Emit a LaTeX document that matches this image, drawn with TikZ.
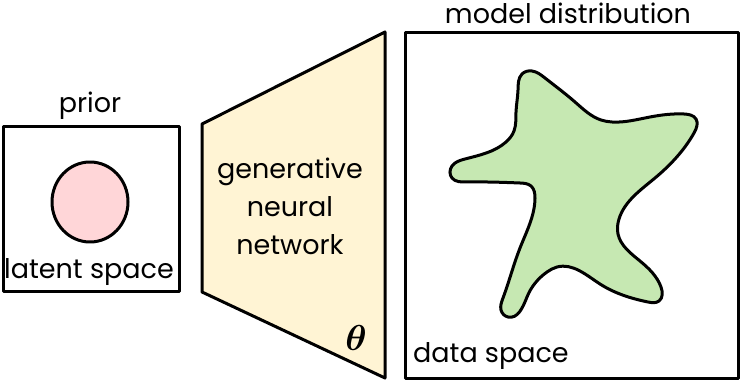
\documentclass[tikz,border=0pt]{standalone}
\usepackage{fontspec}
\usepackage{bm}
\setmainfont{Poppins}
\usepackage{tikz}
\usetikzlibrary{positioning}
\usetikzlibrary{hobby}

\definecolor{priorfill}{HTML}{FFD6D8}
\definecolor{netfill}{HTML}{FFF4D4}
\definecolor{datafill}{HTML}{C6E8B2}

\tikzset{
  frame/.style={draw, line width=3pt},
  label text/.style={font=\fontsize{27}{38}\selectfont, inner sep=0pt}
}

\begin{document}
\begin{tikzpicture}[x=1pt, y=-1pt, line join=round]

    \useasboundingbox (0, 0) rectangle (741, 382);

    % prior over the latent space
    \draw [frame] (3, 127) rectangle (179, 291);
    \draw [frame, fill=priorfill] (90, 202) ellipse [x radius=38, y radius=40];
    \node [label text] (prior) at (90, 106) {prior};
    \node [label text] (latent) at (89, 272) {latent space};

    % the network itself
    \draw [frame, fill=netfill]
    (202, 124) -- (385, 32) -- (385, 378) -- (202, 292) -- cycle;
    \node [label text, align=center] (net) at (290, 206)
    {generative\\neural\\network};
    \node [inner sep=0pt, font=\fontsize{24}{24}\selectfont] (theta) at (356, 338)
    {\scalebox{1.45}{$\bm{\theta}$}};

    % model distribution in data space
    \draw [frame] (405, 33) rectangle (738, 378);
    \draw [frame, fill=datafill] plot [closed hobby] coordinates
    {(518, 90) (522, 74) (532, 71) (545, 78) (575, 102) (601, 120)
      (612, 122) (650, 117) (684, 114) (696, 119) (694, 133)
      (655, 178) (619, 219) (618, 234) (640, 261) (661, 287)
      (659, 301) (648, 302) (600, 284) (557, 267) (547, 272)
      (527, 297) (508, 317) (501, 310) (503, 298) (520, 248)
      (535, 198) (531, 186) (520, 183) (466, 182) (452, 178)
      (452, 166) (465, 159) (506, 142) (514, 131) (516, 112)};
    \node [label text] (model) at (568, 13) {model distribution};
    \node [label text, anchor=west] (data) at (413, 356) {data space};

\end{tikzpicture}
\end{document}
